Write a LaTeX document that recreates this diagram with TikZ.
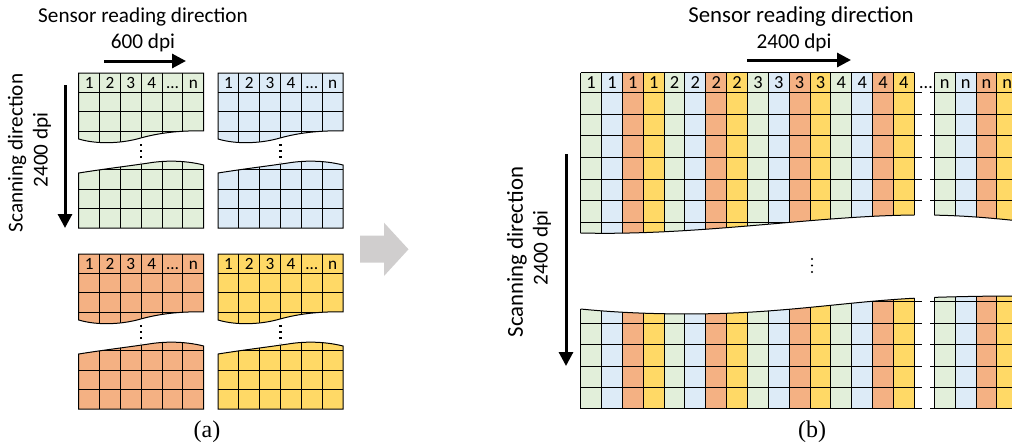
\documentclass[tikz,border=0pt]{standalone}
\usepackage{fontspec}
\setmainfont{Carlito}
\newfontfamily\capfont{Liberation Serif}
\usetikzlibrary{arrows.meta}

\definecolor{cgreen}{RGB}{226,239,218}
\definecolor{cblue}{RGB}{221,235,247}
\definecolor{corange}{RGB}{244,177,131}
\definecolor{cyellow}{RGB}{255,217,102}
\definecolor{cgray}{RGB}{208,206,206}

% one cut sensor block of panel (a): x, y, colour, name prefix
\newcommand{\sensorblock}[4]{%
  \begin{scope}[shift={(#1,#2)}]
    \def\uppart{(0,0) -- (125,0) -- (125,57.8) .. controls (100,57.5) and (80,60) .. (62,65) .. controls (45,70) and (20,72) .. (0,66) -- cycle}
    \def\lowpart{(0,100) .. controls (25,96) and (50,93) .. (70,90) .. controls (85,87.5) and (105,87) .. (125,92) -- (125,155) -- (0,155) -- cycle}
    \foreach \shp in {\uppart,\lowpart}{
      \fill[#3] \shp;
      \begin{scope}
        \clip \shp;
        \foreach \c in {1,...,5} \draw[gridline] ({\c*125/6},0) -- ({\c*125/6},155);
        \foreach \r in {1,...,7} \draw[gridline] (0,{\r*19.375}) -- (125,{\r*19.375});
      \end{scope}
      \draw[gridline] \shp;
    }
    \foreach \t [count=\c] in {1,2,3,4,{…},n}
      \node[celltext] (#4\c) at ({(\c-0.5)*125/6},15.6) {\t};
    \draw[dotline] (62.5,71) -- (62.5,89);
  \end{scope}}

\begin{document}
\begin{tikzpicture}[x=0.5pt,y=-0.5pt,
    gridline/.style={draw=black,line width=0.5pt},
    dotline/.style={line width=1.1pt,dash pattern=on 1.1pt off 1.9pt},
    dirarrow/.style={line width=1.5pt,-{Triangle[length=7pt,width=7pt]}},
    bigtext/.style={font=\fontsize{10.6}{12}\selectfont,inner sep=0pt},
    largetext/.style={font=\fontsize{11.4}{13}\selectfont,inner sep=0pt},
    celltext/.style={font=\fontsize{8.6}{10}\selectfont,inner sep=0pt,anchor=base},
    cellbig/.style={font=\fontsize{9.2}{11}\selectfont,inner sep=0pt,anchor=base},
    captext/.style={font=\capfont\fontsize{12}{14}\selectfont,inner sep=0pt}]

  \useasboundingbox (0,0) rectangle (1012,445);

  % panel (a)
  \node[bigtext] (senseA) at (143,17) {Sensor reading direction};
  \node[bigtext] (dpiA) at (143,43) {600 dpi};
  \coordinate (rdA0) at (104,61);
  \coordinate (rdA1) at (186,61);
  \draw[dirarrow] (rdA0) -- (rdA1);
  \node[bigtext,rotate=90] (scanA) at (17,153) {Scanning direction};
  \node[bigtext,rotate=90] (sdpiA) at (42,150) {2400 dpi};
  \coordinate (scA0) at (65,85);
  \coordinate (scA1) at (65,228);
  \draw[dirarrow] (scA0) -- (scA1);

  \sensorblock{78.7}{73}{cgreen}{g}
  \sensorblock{218}{73}{cblue}{u}
  \sensorblock{78.7}{254}{corange}{o}
  \sensorblock{218}{254}{cyellow}{y}

  % big grey arrow
  \fill[cgray] (360,235.7) -- (384,235.7) -- (384,222.7) -- (408.5,249.3)
    -- (384,276) -- (384,262.7) -- (360,262.7) -- cycle;

  % panel (b)
  \node[largetext] (senseB) at (801,17) {Sensor reading direction};
  \node[bigtext] (dpiB) at (794,43) {2400 dpi};
  \coordinate (rdB0) at (747,60);
  \coordinate (rdB1) at (851,60);
  \draw[dirarrow] (rdB0) -- (rdB1);
  \node[largetext,rotate=90] (scanB) at (517,252) {Scanning direction};
  \node[bigtext,rotate=90] (sdpiB) at (542,248) {2400 dpi};
  \coordinate (scB0) at (566,154);
  \coordinate (scB1) at (566,366);
  \draw[dirarrow] (scB0) -- (scB1);

  \def\waveA{.. controls (700,236) and (820,215) .. (920,215) .. controls (960,215) and (990,218) .. (1015,220.5)}
  \def\waveB{.. controls (630,314) and (680,314.5) .. (720,313.5) .. controls (800,311) and (860,300) .. (930,297.5) .. controls (960,296.5) and (990,296) .. (1015,296)}

  % upper band
  \begin{scope}
    \clip (570,60) -- (570,233) -- (580.7,233) \waveA -- (1015,60) -- cycle;
    \foreach \col [count=\c from 0] in {cgreen,cblue,corange,cyellow}{
      \foreach \g in {0,...,3}
        \fill[\col] ({580.7+(4*\g+\c)*20.85},72.7) rectangle +(20.85,180);
      \fill[\col] ({934.3+\c*20.85},72.7) rectangle +(20.85,180);
    }
    \foreach \i in {0,...,16} \draw[gridline] ({580.7+\i*20.85},72.7) -- +(0,180);
    \foreach \i in {0,...,3} \draw[gridline] ({934.3+\i*20.85},72.7) -- +(0,180);
    \foreach \r in {0,...,7}{
      \draw[gridline] (580.7,{92.7+\r*21.6}) -- (921.7,{92.7+\r*21.6});
      \draw[gridline] (930,{92.7+\r*21.6}) -- (1015,{92.7+\r*21.6});
    }
  \end{scope}

  % lower band
  \begin{scope}
    \clip (570,309) -- (580.7,309) \waveB -- (1015,415) -- (570,415) -- cycle;
    \foreach \col [count=\c from 0] in {cgreen,cblue,corange,cyellow}{
      \foreach \g in {0,...,3}
        \fill[\col] ({580.7+(4*\g+\c)*20.85},290) rectangle +(20.85,118.7);
      \fill[\col] ({934.3+\c*20.85},290) rectangle +(20.85,118.7);
    }
    \foreach \i in {0,...,16} \draw[gridline] ({580.7+\i*20.85},290) -- +(0,118.7);
    \foreach \i in {0,...,3} \draw[gridline] ({934.3+\i*20.85},290) -- +(0,118.7);
    \foreach \r in {0,...,5}{
      \draw[gridline] (580.7,{408.7-\r*21.35}) -- (921.7,{408.7-\r*21.35});
      \draw[gridline] (930,{408.7-\r*21.35}) -- (1015,{408.7-\r*21.35});
    }
  \end{scope}

  % cut edges
  \begin{scope}
    \clip (580.7,0) rectangle (914.3,445) (934.3,0) rectangle (1015,445);
    \draw[gridline] (580.7,233) \waveA;
    \draw[gridline] (580.7,309) \waveB;
    \draw[gridline] (580.7,72.7) -- (1015,72.7);
  \end{scope}

  \foreach \g [evaluate=\g as \num using int(\g+1)] in {0,...,3}
    \foreach \c in {0,...,3}
      \node[cellbig] (b\num\c) at ({580.7+(4*\g+\c+0.5)*20.85},88.6) {\num};
  \foreach \c in {0,...,3}
    \node[cellbig] (bn\c) at ({934.3+(\c+0.5)*20.85},88.6) {n};
  \node[cellbig] (bgap) at (926,88.6) {…};
  % vertical dots between the two cut parts
  \foreach \d in {259,265.5,272}
    \fill (812,\d) circle (0.6pt);

  \node[captext] (capA) at (207,432) {(a)};
  \node[captext] (capB) at (812,432) {(b)};
\end{tikzpicture}
\end{document}
